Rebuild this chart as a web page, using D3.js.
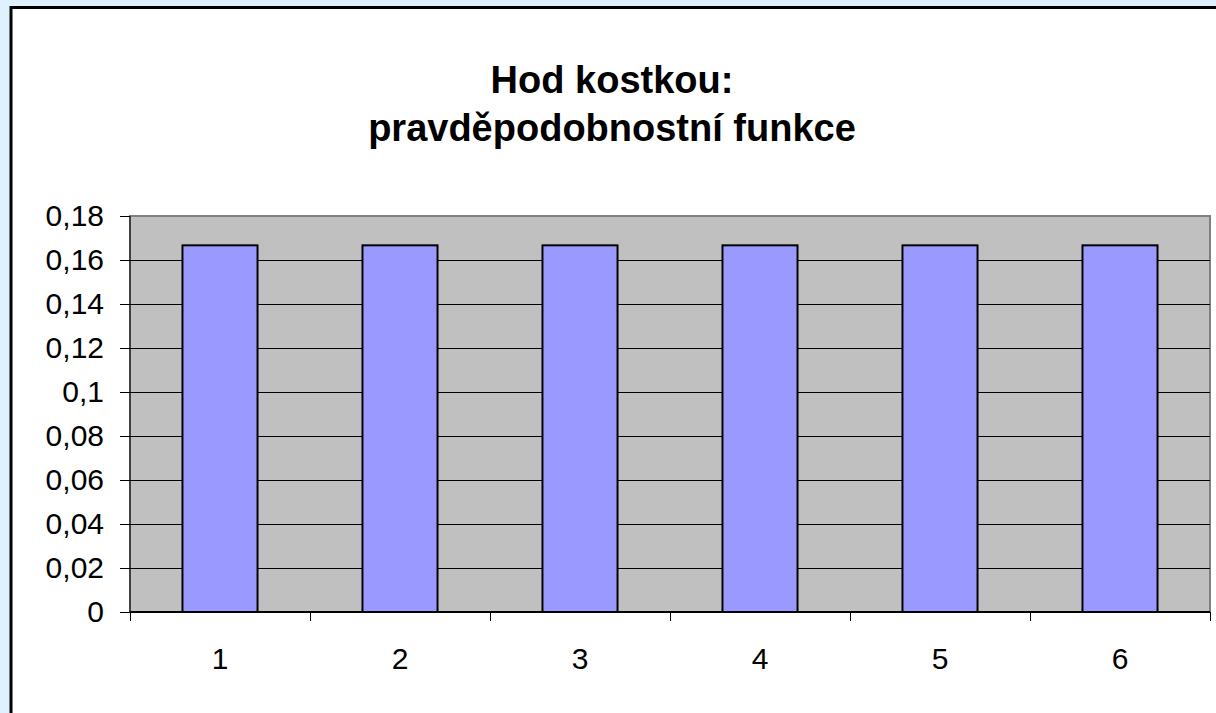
<!DOCTYPE html>
<html>
<head>
<meta charset="utf-8">
<script src="https://d3js.org/d3.v7.min.js"></script>
<style>
  body { margin: 0; background: #dff0fe; }
  svg { display: block; font-family: Arial, "Liberation Sans", sans-serif; }
  .grid line { stroke: #000; stroke-width: 1; }
  .bar { fill: #9999ff; stroke: #000; stroke-width: 2; }
</style>
</head>
<body>
<script>
  // data
  let categories = ["1", "2", "3", "4", "5", "6"];
  let values = [1/6, 1/6, 1/6, 1/6, 1/6, 1/6];
  let yTicks = [0, 0.02, 0.04, 0.06, 0.08, 0.1, 0.12, 0.14, 0.16, 0.18];
  let titleLines = ["Hod kostkou:", "pravděpodobnostní funkce"];

  let width = 1216, height = 713;
  let plot = {left: 130, right: 1210, top: 216, bottom: 612};
  let labelFont = "Arial, 'Liberation Sans', sans-serif";

  let svg = d3.select("body").append("svg")
    .attr("width", width)
    .attr("height", height);

  // white frame with black border (extends past right/bottom edge)
  svg.append("rect")
    .attr("x", 11).attr("y", 7.5)
    .attr("width", width + 20).attr("height", height + 20)
    .attr("fill", "#fff")
    .attr("stroke", "#000")
    .attr("stroke-width", 3);

  svg.selectAll(".title")
    .data(titleLines)
    .join("text")
    .attr("class", "title")
    .attr("x", 612)
    .attr("y", (d, i) => 93 + i * 48)
    .attr("text-anchor", "middle")
    .attr("font-size", 38)
    .attr("font-weight", "bold")
    .text(d => d);

  let x = d3.scaleBand()
    .domain(categories)
    .range([plot.left, plot.right]);

  let y = d3.scaleLinear()
    .domain([0, 0.18])
    .range([plot.bottom, plot.top]);

  // plot background
  svg.append("rect")
    .attr("x", plot.left).attr("y", plot.top)
    .attr("width", plot.right - plot.left)
    .attr("height", plot.bottom - plot.top)
    .attr("fill", "#c0c0c0")
    .attr("stroke", "#808080")
    .attr("stroke-width", 2);

  // gridlines
  svg.append("g")
    .attr("class", "grid")
    .selectAll("line")
    .data(yTicks.filter(d => d > 0 && d < 0.18))
    .join("line")
    .attr("x1", plot.left).attr("x2", plot.right)
    .attr("y1", d => Math.round(y(d)) + 0.5)
    .attr("y2", d => Math.round(y(d)) + 0.5);

  // bars
  let barW = x.bandwidth() * 0.417;
  svg.selectAll(".bar")
    .data(values)
    .join("rect")
    .attr("class", "bar")
    .attr("x", (d, i) => x(categories[i]) + (x.bandwidth() - barW) / 2)
    .attr("y", d => y(d))
    .attr("width", barW)
    .attr("height", d => y(0) - y(d));

  let fmt = d => String(+d.toFixed(2)).replace(".", ",");

  // y axis
  let yAxis = svg.append("g")
    .attr("transform", `translate(${plot.left},0)`)
    .call(d3.axisLeft(y).tickValues(yTicks).tickFormat(fmt).tickSize(10).tickPadding(16));
  yAxis.selectAll("text").attr("font-size", 30).attr("fill", "#000").attr("font-family", labelFont);
  yAxis.selectAll("line").attr("stroke", "#000");
  yAxis.select(".domain").attr("stroke", "#000").attr("d", `M0,${plot.top}V${plot.bottom}`);

  // x axis
  let xAxis = svg.append("g")
    .attr("transform", `translate(0,${plot.bottom})`)
    .call(d3.axisBottom(x).tickSize(0).tickPadding(36));
  xAxis.selectAll("text").attr("font-size", 30).attr("fill", "#000").attr("font-family", labelFont);
  xAxis.select(".domain").attr("stroke", "#000").attr("stroke-width", 2).attr("d", `M${plot.left},0H${plot.right}`);

  let boundaries = categories.map(c => x(c)).concat([plot.right]);
  xAxis.selectAll(".bound")
    .data(boundaries)
    .join("line")
    .attr("class", "bound")
    .attr("x1", d => Math.round(d) + 0.5).attr("x2", d => Math.round(d) + 0.5)
    .attr("y1", 0).attr("y2", 9)
    .attr("stroke", "#000");
</script>
</body>
</html>
